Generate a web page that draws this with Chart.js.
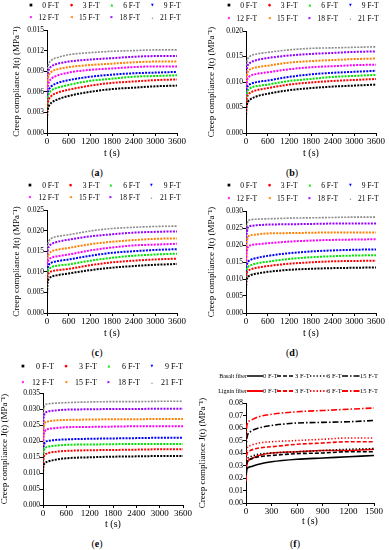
<!DOCTYPE html>
<html>
<head>
<meta charset="utf-8">
<script src="https://cdn.jsdelivr.net/npm/chart.js@4.4.1/dist/chart.umd.min.js"></script>
<style>
  body { margin:0; background:#fff; width:389px; height:550px; overflow:hidden; position:relative; font-family:'Liberation Serif', serif; color:#000; }
  .panel { position:absolute; width:194px; overflow:hidden; }
  .panel canvas { position:absolute; left:0; top:0; }
  .t { position:absolute; white-space:nowrap; line-height:1; }
  .mk { position:absolute; font-family:'DejaVu Sans', sans-serif; line-height:1; transform:translate(-50%,-50%); }
  .cap { position:absolute; font-size:10px; transform:translate(-50%,-50%); white-space:nowrap; }
  svg { position:absolute; overflow:visible; }
</style>
</head>
<body>
<script>
// freeze-thaw cycles
const ftLabels = ['0 F-T','3 F-T','6 F-T','9 F-T','12 F-T','15 F-T','18 F-T','21 F-T'];
const ftColors = ['#000000','#ff0000','#00e400','#0000ff','#ff00ff','#ff8000','#9400ff','#8c8c8c'];
const ftMarks  = ['■','●','▲','▼','◆','◀','▶','•'];

// time (s) for panels a-e
const tS = [0, 10, 30, 60, 120, 300, 600, 1200, 1800, 2400, 3000, 3600];
const tTicks = [0, 600, 1200, 1800, 2400, 3000, 3600];

// creep compliance (MPa^-1), one row per F-T count
const ja = [
  [0.0020,0.0030,0.0036,0.0040,0.0044,0.0049,0.0054,0.0060,0.0064,0.0066,0.0068,0.0069],
  [0.0026,0.0038,0.0045,0.0050,0.0054,0.0059,0.0063,0.0069,0.0073,0.0075,0.0077,0.0078],
  [0.0032,0.0045,0.0053,0.0058,0.0062,0.0066,0.0070,0.0076,0.0079,0.0082,0.0083,0.0084],
  [0.0036,0.0050,0.0059,0.0064,0.0068,0.0073,0.0077,0.0082,0.0085,0.0087,0.0088,0.0089],
  [0.0044,0.0060,0.0070,0.0075,0.0079,0.0084,0.0088,0.0092,0.0094,0.0096,0.0097,0.0097],
  [0.0052,0.0070,0.0080,0.0085,0.0089,0.0093,0.0096,0.0099,0.0101,0.0103,0.0104,0.0104],
  [0.0058,0.0078,0.0088,0.0093,0.0097,0.0101,0.0104,0.0107,0.0109,0.0111,0.0112,0.0112],
  [0.0065,0.0087,0.0097,0.0102,0.0106,0.0110,0.0114,0.0117,0.0119,0.0120,0.0121,0.0121]
];
const jb = [
  [0.0030,0.0048,0.0057,0.0062,0.0066,0.0072,0.0077,0.0084,0.0088,0.0091,0.0093,0.0095],
  [0.0040,0.0060,0.0070,0.0075,0.0079,0.0084,0.0088,0.0095,0.0099,0.0102,0.0104,0.0106],
  [0.0045,0.0068,0.0079,0.0084,0.0088,0.0092,0.0095,0.0102,0.0106,0.0110,0.0112,0.0114],
  [0.0052,0.0076,0.0088,0.0093,0.0096,0.0100,0.0103,0.0110,0.0115,0.0118,0.0120,0.0122],
  [0.0060,0.0088,0.0102,0.0108,0.0112,0.0116,0.0119,0.0125,0.0129,0.0131,0.0133,0.0134],
  [0.0068,0.0100,0.0115,0.0121,0.0125,0.0129,0.0132,0.0138,0.0141,0.0143,0.0145,0.0146],
  [0.0075,0.0110,0.0127,0.0134,0.0138,0.0143,0.0147,0.0152,0.0155,0.0157,0.0159,0.0160],
  [0.0082,0.0122,0.0140,0.0147,0.0151,0.0155,0.0158,0.0163,0.0166,0.0167,0.0168,0.0169]
];
const jc = [
  [0.0040,0.0068,0.0079,0.0084,0.0088,0.0092,0.0096,0.0104,0.0110,0.0114,0.0117,0.0119],
  [0.0055,0.0082,0.0093,0.0098,0.0101,0.0104,0.0107,0.0116,0.0123,0.0127,0.0130,0.0132],
  [0.0062,0.0090,0.0102,0.0107,0.0111,0.0115,0.0118,0.0127,0.0134,0.0139,0.0142,0.0144],
  [0.0070,0.0100,0.0113,0.0118,0.0122,0.0126,0.0130,0.0139,0.0146,0.0150,0.0153,0.0155],
  [0.0078,0.0110,0.0124,0.0130,0.0134,0.0138,0.0142,0.0152,0.0159,0.0164,0.0166,0.0168],
  [0.0085,0.0122,0.0138,0.0144,0.0149,0.0154,0.0158,0.0167,0.0173,0.0177,0.0180,0.0181],
  [0.0095,0.0138,0.0155,0.0162,0.0167,0.0173,0.0178,0.0186,0.0191,0.0195,0.0197,0.0198],
  [0.0105,0.0150,0.0169,0.0176,0.0181,0.0186,0.0190,0.0199,0.0205,0.0208,0.0210,0.0211]
];
const jd = [
  [0.0070,0.0093,0.0102,0.0107,0.0111,0.0116,0.0121,0.0127,0.0130,0.0132,0.0133,0.0134],
  [0.0080,0.0108,0.0119,0.0124,0.0128,0.0133,0.0138,0.0145,0.0149,0.0152,0.0153,0.0154],
  [0.0088,0.0118,0.0130,0.0136,0.0140,0.0146,0.0151,0.0159,0.0164,0.0167,0.0169,0.0170],
  [0.0095,0.0130,0.0144,0.0151,0.0156,0.0162,0.0168,0.0176,0.0181,0.0184,0.0186,0.0187],
  [0.0115,0.0165,0.0186,0.0195,0.0199,0.0202,0.0205,0.0210,0.0213,0.0215,0.0216,0.0217],
  [0.0130,0.0190,0.0214,0.0224,0.0228,0.0231,0.0234,0.0235,0.0236,0.0237,0.0237,0.0237],
  [0.0145,0.0212,0.0240,0.0253,0.0256,0.0258,0.0260,0.0261,0.0262,0.0263,0.0263,0.0263],
  [0.0160,0.0232,0.0260,0.0271,0.0274,0.0276,0.0277,0.0279,0.0280,0.0281,0.0282,0.0282]
];
const je = [
  [0.0095,0.0120,0.0128,0.0132,0.0136,0.0141,0.0146,0.0149,0.0151,0.0152,0.0153,0.0153],
  [0.0110,0.0142,0.0153,0.0158,0.0162,0.0166,0.0169,0.0171,0.0172,0.0173,0.0174,0.0174],
  [0.0120,0.0160,0.0173,0.0179,0.0182,0.0185,0.0188,0.0189,0.0190,0.0191,0.0191,0.0191],
  [0.0130,0.0175,0.0190,0.0197,0.0200,0.0203,0.0205,0.0207,0.0208,0.0209,0.0210,0.0210],
  [0.0150,0.0205,0.0224,0.0233,0.0237,0.0240,0.0243,0.0244,0.0245,0.0246,0.0246,0.0246],
  [0.0165,0.0228,0.0250,0.0258,0.0261,0.0264,0.0266,0.0267,0.0268,0.0268,0.0269,0.0269],
  [0.0180,0.0255,0.0280,0.0288,0.0292,0.0295,0.0298,0.0299,0.0300,0.0300,0.0301,0.0301],
  [0.0195,0.0280,0.0305,0.0313,0.0316,0.0318,0.0320,0.0322,0.0323,0.0323,0.0324,0.0324]
];
const yTicksA = [0, 0.003, 0.006, 0.009, 0.012, 0.015];
const yTicksB = [0, 0.005, 0.010, 0.015, 0.020];
const yTicksC = [0, 0.005, 0.010, 0.015, 0.020, 0.025];
const yTicksD = [0, 0.005, 0.010, 0.015, 0.020, 0.025, 0.030];
const yTicksE = [0, 0.005, 0.010, 0.015, 0.020, 0.025, 0.030, 0.035];

// panel f: basalt vs lignin fiber
const tF = [0, 10, 50, 150, 300, 600, 900, 1200, 1500];
const tTicksF = [0, 300, 600, 900, 1200, 1500];
const yTicksF = [0, 0.01, 0.02, 0.03, 0.04, 0.05, 0.06, 0.07, 0.08];
const fLabels = ['0 F-T','3 F-T','6 F-T','15 F-T'];
const fBasalt = [
  [0.022,0.027,0.029,0.031,0.033,0.035,0.036,0.037,0.038],
  [0.026,0.032,0.035,0.037,0.038,0.0395,0.040,0.041,0.041],
  [0.028,0.034,0.037,0.039,0.040,0.041,0.042,0.043,0.0435],
  [0.042,0.052,0.057,0.060,0.062,0.064,0.0645,0.065,0.066]
];
const fLignin = [
  [0.017,0.031,0.035,0.038,0.040,0.041,0.042,0.042,0.043],
  [0.033,0.039,0.042,0.044,0.045,0.047,0.048,0.049,0.049],
  [0.036,0.043,0.046,0.048,0.049,0.050,0.051,0.052,0.052],
  [0.050,0.062,0.066,0.069,0.071,0.073,0.074,0.075,0.076]
];
const fDash = [[], [4, 2], [1.3, 2], [6, 2, 1.5, 2]];

const SERIF = 'Liberation Serif';
const yTitle = 'Creep compliance J(t) (MPa⁻¹)';

function el(tag, cls, parent, css) {
  const e = document.createElement(tag);
  if (cls) e.className = cls;
  Object.assign(e.style, css || {});
  parent.appendChild(e);
  return e;
}

function makeChart(div, p, datasets) {
  const cv = el('canvas', '', div);
  cv.width = 194; cv.height = p.H;
  new Chart(cv, {
    type: 'line',
    data: { datasets },
    options: {
      responsive: false, animation: false,
      layout: { padding: { top: p.T, right: 194 - p.R, left: 0, bottom: 0 } },
      plugins: { legend: { display: false }, tooltip: { enabled: false } },
      elements: { point: { radius: 0 } },
      scales: {
        x: {
          type: 'linear', min: 0, max: p.xt[p.xt.length - 1],
          afterBuildTicks: s => { s.ticks = p.xt.map(v => ({ value: v })); },
          afterFit: s => { s.height = p.H - p.B; },
          grid: { drawOnChartArea: false, tickLength: 3, color: '#000' },
          border: { color: '#000', width: 1 },
          ticks: { autoSkip: false, maxRotation: 0, padding: 0, color: '#000', font: { family: SERIF, size: 9 }, callback: v => String(v) },
          title: { display: true, text: 't (s)', color: '#000', font: { family: SERIF, size: 10 }, padding: { top: 0, bottom: 0 } }
        },
        y: {
          min: 0, max: p.yt[p.yt.length - 1],
          afterBuildTicks: s => { s.ticks = p.yt.map(v => ({ value: v })); },
          afterFit: s => { s.width = p.L; },
          grid: { drawOnChartArea: false, tickLength: 3, color: '#000' },
          border: { color: '#000', width: 1 },
          ticks: { autoSkip: false, padding: 0, color: '#000', font: { family: SERIF, size: p.yfs }, callback: v => v.toFixed(p.dec) },
          title: { display: true, text: yTitle, color: '#000', font: { family: SERIF, size: 9 }, padding: { top: p.tx - 5.4, bottom: 0 } }
        }
      }
    }
  });
}

const panels = [
  { cap: 'a', left: 0,   top: 0,   h: 180, rows: ja, yt: yTicksA, dec: 3, L: 47, R: 177, T: 30, B: 133, H: 159, tx: 17, leg: { mx: 31, lx: 59, dx: 40.5, ry: [6, 18], fs: 7.5 }, cx: 97, cy: 172 },
  { cap: 'b', left: 195, top: 0,   h: 180, rows: jb, yt: yTicksB, dec: 3, L: 51, R: 181, T: 31, B: 133, H: 159, tx: 17, leg: { mx: 34, lx: 62, dx: 40.5, ry: [6, 19], fs: 7.5 }, cx: 97, cy: 172 },
  { cap: 'c', left: 0,   top: 180, h: 180, rows: jc, yt: yTicksC, dec: 3, L: 47, R: 177, T: 30, B: 133, H: 159, tx: 17, leg: { mx: 30, lx: 59, dx: 40.5, ry: [6, 18], fs: 7.5 }, cx: 97, cy: 172 },
  { cap: 'd', left: 195, top: 180, h: 180, rows: jd, yt: yTicksD, dec: 3, L: 51, R: 181, T: 31, B: 133, H: 159, tx: 17, leg: { mx: 34, lx: 62, dx: 40.5, ry: [6, 19], fs: 7.5 }, cx: 97, cy: 172 },
  { cap: 'e', left: 0,   top: 360, h: 190, rows: je, yt: yTicksE, dec: 3, L: 43, R: 183, T: 33, B: 145, H: 170, tx: 5,  leg: { mx: 23, lx: 54, dx: 43, ry: [7, 23], fs: 8 },   cx: 97, cy: 183 }
];

panels.forEach(p => {
  const div = el('div', 'panel', document.body, { left: p.left + 'px', top: p.top + 'px', height: p.h + 'px' });
  p.xt = tTicks; p.yfs = 7.5;
  const datasets = p.rows.map((r, i) => ({
    label: ftLabels[i],
    data: tS.map((t, k) => ({ x: t, y: r[k] })),
    borderColor: ftColors[i], backgroundColor: ftColors[i],
    borderWidth: i === 7 ? 1.6 : 2, borderDash: [2, 1.2],
    cubicInterpolationMode: 'monotone', fill: false
  }));
  makeChart(div, p, datasets);
  // legend: two rows of four, marker then right-aligned label
  ftLabels.forEach((lab, i) => {
    const row = Math.floor(i / 4), col = i % 4;
    const y = p.leg.ry[row];
    const m = el('span', 'mk', div, { left: (p.leg.mx + col * p.leg.dx) + 'px', top: y + 'px', color: ftColors[i], fontSize: (i === 7 ? 5 : 3.6) + 'px' });
    m.textContent = ftMarks[i];
    const t = el('span', 't', div, { right: (194 - (p.leg.lx + col * p.leg.dx)) + 'px', top: (y - p.leg.fs * 0.5) + 'px', fontSize: p.leg.fs + 'px' });
    t.textContent = lab;
  });
  const c = el('div', 'cap', div, { left: p.cx + 'px', top: p.cy + 'px' });
  c.innerHTML = '(<b>' + p.cap + '</b>)';
});

// panel f
(() => {
  const p = { left: 195, top: 360, h: 190, yt: yTicksF, xt: tTicksF, dec: 2, yfs: 8, L: 51, R: 179, T: 43, B: 143, H: 167, tx: 8 };
  const div = el('div', 'panel', document.body, { left: p.left + 'px', top: p.top + 'px', height: p.h + 'px' });
  const datasets = [];
  [[fBasalt, '#000000'], [fLignin, '#ff0000']].forEach(([rows, col]) => {
    rows.forEach((r, i) => datasets.push({
      label: fLabels[i],
      data: tF.map((t, k) => ({ x: t, y: r[k] })),
      borderColor: col, borderWidth: 1.6, borderDash: fDash[i],
      cubicInterpolationMode: 'monotone', fill: false
    }));
  });
  makeChart(div, p, datasets);
  // legend rows
  const groups = [['Basalt fiber', '#000000', 16], ['Lignin fiber', '#ff0000', 31]];
  const seg = [[52, 68], [82, 100], [115, 132], [147, 165]];
  groups.forEach(([name, col, y]) => {
    const g = el('span', 't', div, { right: (194 - 52) + 'px', top: (y - 3) + 'px', fontSize: '6px' });
    g.textContent = name;
    const svg = document.createElementNS('http://www.w3.org/2000/svg', 'svg');
    svg.setAttribute('width', '194'); svg.setAttribute('height', '40');
    svg.style.left = '0px'; svg.style.top = '0px';
    div.appendChild(svg);
    seg.forEach(([a, b], i) => {
      const ln = document.createElementNS('http://www.w3.org/2000/svg', 'line');
      ln.setAttribute('x1', a); ln.setAttribute('x2', b); ln.setAttribute('y1', y); ln.setAttribute('y2', y);
      ln.setAttribute('stroke', col); ln.setAttribute('stroke-width', col === '#000000' ? 1.5 : 2);
      if (fDash[i].length) ln.setAttribute('stroke-dasharray', fDash[i].join(' '));
      svg.appendChild(ln);
      const t = el('span', 't', div, { left: b + 'px', top: (y - 3.3) + 'px', fontSize: '6.5px' });
      t.textContent = fLabels[i];
    });
  });
  const c = el('div', 'cap', div, { left: '100px', top: '183px' });
  c.innerHTML = '(<b>f</b>)';
})();
</script>
</body>
</html>
